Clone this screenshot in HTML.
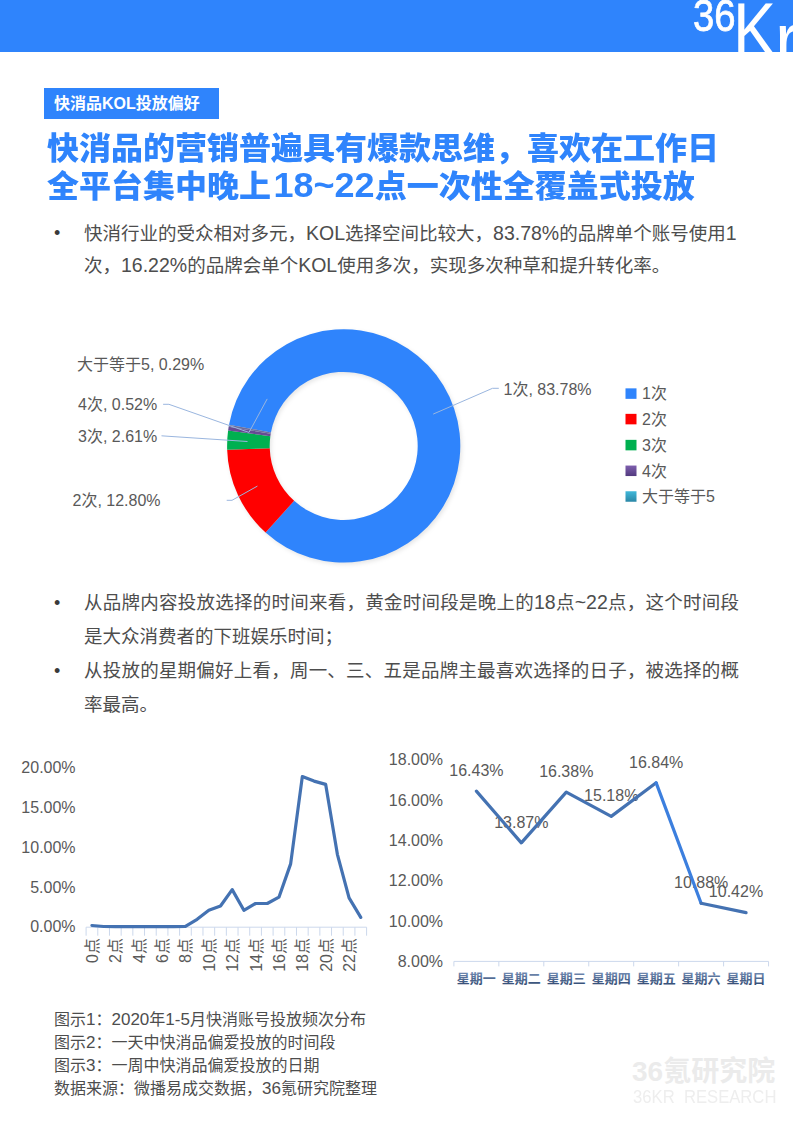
<!DOCTYPE html>
<html lang="zh-CN">
<head>
<meta charset="utf-8">
<title>快消品KOL投放偏好</title>
<style>
*{margin:0;padding:0;box-sizing:border-box}
html,body{width:793px;height:1122px;overflow:hidden;background:#fff}
body{position:relative;font-family:"Liberation Sans","Noto Sans CJK SC",sans-serif;color:#404040}
#bar{position:absolute;left:0;top:0;width:793px;height:52px;background:#2F84FC;overflow:hidden}
#tag{position:absolute;left:44px;top:88px;width:175px;height:30.5px;background:#2F84FC;color:#fff;font-weight:bold;font-size:16px;line-height:32px;padding-left:10px;white-space:nowrap}
.title{position:absolute;left:47px;font-size:32px;font-weight:900;color:#2F84FC;line-height:37px;white-space:nowrap;transform:scaleY(.955);transform-origin:0 50%}
.tl{font-size:36px;line-height:1;margin:0 0 0 2.5px;position:relative;top:0px}
.p{position:absolute;left:84px;font-size:18.5px;line-height:32px;color:#4D4D4D;white-space:nowrap}
.j{text-align:justify;text-align-last:justify}
.l{font-size:19.5px;line-height:1}
.dot{position:absolute;font-size:18px;line-height:32px;color:#3a3a3a}
.cap{position:absolute;left:54px;font-size:16px;line-height:23px;color:#4D4D4D;white-space:nowrap}
.c{font-size:17px;line-height:1}
#g{position:absolute;left:0;top:0}
#l36{position:absolute;left:692.5px;top:-6.5px;font-family:"Liberation Sans",sans-serif;font-weight:normal;-webkit-text-stroke:0.8px #fff;font-size:44px;line-height:1;color:#fff;transform:scaleX(.87);transform-origin:0 0}
#lr{position:absolute;left:775px;top:2px;font-family:"Liberation Sans",sans-serif;font-size:76px;line-height:1;color:#fff;transform:scaleX(.95);transform-origin:0 0}
#lK{position:absolute;left:733px;top:-8px;font-family:"Liberation Sans",sans-serif;font-size:76px;line-height:1;color:#fff;transform:scaleX(.85);transform-origin:0 0}
#wm1{position:absolute;left:632px;top:1054px;font-family:"Liberation Sans","Noto Sans CJK SC",sans-serif;font-weight:bold;font-size:28px;line-height:36px;color:#EBEBEB;white-space:nowrap}
#wm2{position:absolute;left:633px;top:1086px;font-family:"Liberation Sans",sans-serif;font-size:18px;line-height:22px;color:#EEEEEE;white-space:nowrap;transform:scaleX(.925);transform-origin:0 0}
svg text{font-family:"Liberation Sans","Noto Sans CJK SC",sans-serif}
</style>
</head>
<body>
<div id="bar"><div id="l36">36</div><div id="lK">K</div><div id="lr">r</div></div>
<div id="tag">快消品KOL投放偏好</div>
<div class="title" style="top:129.7px">快消品的营销普遍具有爆款思维，喜欢在工作日</div>
<div class="title" style="top:166.5px">全平台集中晚上<span class="tl">18~22</span>点一次性全覆盖式投放</div>

<div class="dot" style="left:54px;top:217px">•</div>
<div class="p j" style="top:218px;width:651px">快消行业的受众相对多元，<span class="l">KOL</span>选择空间比较大，<span class="l">83.78%</span>的品牌单个账号使用<span class="l">1</span></div>
<div class="p" style="top:250px">次，<span class="l">16.22%</span>的品牌会单个<span class="l">KOL</span>使用多次，实现多次种草和提升转化率。</div>

<div class="dot" style="left:54px;top:587px">•</div>
<div class="p j" style="top:587px;width:655px">从品牌内容投放选择的时间来看，黄金时间段是晚上的<span class="l">18</span>点<span class="l">~22</span>点，这个时间段</div>
<div class="p" style="top:621px">是大众消费者的下班娱乐时间；</div>
<div class="dot" style="left:54px;top:655px">•</div>
<div class="p j" style="top:655px;width:655px">从投放的星期偏好上看，周一、三、五是品牌主最喜欢选择的日子，被选择的概</div>
<div class="p" style="top:689px">率最高。</div>

<svg id="g" width="793" height="1122" viewBox="0 0 793 1122"><defs><linearGradient id="dg" x1="0" y1="0" x2="0" y2="1"><stop offset="0" stop-color="#7891B8"/><stop offset="1" stop-color="#2B456E"/></linearGradient><linearGradient id="gp" x1="0" y1="0" x2="0" y2="1"><stop offset="0" stop-color="#7E5FAE"/><stop offset="1" stop-color="#523A7E"/></linearGradient><linearGradient id="gt" x1="0" y1="0" x2="0" y2="1"><stop offset="0" stop-color="#40B8DA"/><stop offset="1" stop-color="#2A87A6"/></linearGradient><filter id="blur" x="-20%" y="-20%" width="140%" height="140%"><feGaussianBlur stdDeviation="2"/></filter></defs><circle cx="343.7" cy="445.9" r="95.3" fill="none" stroke="#000" stroke-opacity="0.10" stroke-width="42.599999999999994" filter="url(#blur)" transform="translate(1.5 2)"/>
<path d="M229.03 424.75 A116.6 116.6 0 1 1 265.59 532.47 L294.13 500.84 A74 74 0 1 0 270.93 432.48 Z" fill="#2F84FC"/>
<path d="M265.59 532.47 A116.6 116.6 0 0 1 227.16 449.69 L269.74 448.3 A74 74 0 0 0 294.13 500.84 Z" fill="#FF0000"/>
<path d="M227.16 449.69 A116.6 116.6 0 0 1 228.11 430.61 L270.34 436.2 A74 74 0 0 0 269.74 448.3 Z" fill="#00B050"/>
<path d="M228.11 430.61 A116.6 116.6 0 0 1 228.67 426.84 L270.69 433.81 A74 74 0 0 0 270.34 436.2 Z" fill="#674A94"/>
<path d="M228.67 426.84 A116.6 116.6 0 0 1 229.03 424.75 L270.93 432.48 A74 74 0 0 0 270.69 433.81 Z" fill="#6A6F9E"/>
<polyline points="498.8,388.3 492.5,388.3 433.2,414.1" fill="none" stroke="#9AB6DF" stroke-width="1"/>
<polyline points="226.7,500.3 232,500.3 257.4,486.1" fill="none" stroke="#9AB6DF" stroke-width="1"/>
<polyline points="163.1,404.3 168.9,404.3 249.2,432.5" fill="none" stroke="#9AB6DF" stroke-width="1"/>
<polyline points="161.5,435.8 167,436.2 247.5,441.5" fill="none" stroke="#9AB6DF" stroke-width="1"/>
<polyline points="267.2,398.9 249.2,432.1" fill="none" stroke="#9AB6DF" stroke-width="1"/>
<text x="503.5" y="394.5" font-size="16" fill="#595959" text-anchor="start">1次, 83.78%</text>
<text x="77" y="369.5" font-size="16" fill="#595959" text-anchor="start">大于等于5, 0.29%</text>
<text x="78" y="410" font-size="16" fill="#595959" text-anchor="start">4次, 0.52%</text>
<text x="78" y="441.5" font-size="16" fill="#595959" text-anchor="start">3次, 2.61%</text>
<text x="72.5" y="506" font-size="16" fill="#595959" text-anchor="start">2次, 12.80%</text>
<rect x="625.5" y="388.35" width="11" height="10.5" fill="#2F84FC"/>
<text x="642" y="399.4" font-size="16" fill="#595959" text-anchor="start">1次</text>
<rect x="625.5" y="413.85" width="11" height="10.5" fill="#FF0000"/>
<text x="642" y="424.9" font-size="16" fill="#595959" text-anchor="start">2次</text>
<rect x="625.5" y="439.85" width="11" height="10.5" fill="#00B050"/>
<text x="642" y="450.9" font-size="16" fill="#595959" text-anchor="start">3次</text>
<rect x="625.5" y="465.55" width="11" height="10.5" fill="url(#gp)"/>
<text x="642" y="476.6" font-size="16" fill="#595959" text-anchor="start">4次</text>
<rect x="625.5" y="491.25" width="11" height="10.5" fill="url(#gt)"/>
<text x="642" y="502.3" font-size="16" fill="#595959" text-anchor="start">大于等于5</text>
<line x1="86.1" y1="927.2" x2="366.6" y2="927.2" stroke="#CCD8EC" stroke-width="1"/>
<line x1="86.1" y1="927.2" x2="86.1" y2="935.7" stroke="#CCD8EC" stroke-width="1"/>
<line x1="97.79" y1="927.2" x2="97.79" y2="935.7" stroke="#CCD8EC" stroke-width="1"/>
<line x1="109.47" y1="927.2" x2="109.47" y2="935.7" stroke="#CCD8EC" stroke-width="1"/>
<line x1="121.16" y1="927.2" x2="121.16" y2="935.7" stroke="#CCD8EC" stroke-width="1"/>
<line x1="132.85" y1="927.2" x2="132.85" y2="935.7" stroke="#CCD8EC" stroke-width="1"/>
<line x1="144.54" y1="927.2" x2="144.54" y2="935.7" stroke="#CCD8EC" stroke-width="1"/>
<line x1="156.22" y1="927.2" x2="156.22" y2="935.7" stroke="#CCD8EC" stroke-width="1"/>
<line x1="167.91" y1="927.2" x2="167.91" y2="935.7" stroke="#CCD8EC" stroke-width="1"/>
<line x1="179.6" y1="927.2" x2="179.6" y2="935.7" stroke="#CCD8EC" stroke-width="1"/>
<line x1="191.29" y1="927.2" x2="191.29" y2="935.7" stroke="#CCD8EC" stroke-width="1"/>
<line x1="202.97" y1="927.2" x2="202.97" y2="935.7" stroke="#CCD8EC" stroke-width="1"/>
<line x1="214.66" y1="927.2" x2="214.66" y2="935.7" stroke="#CCD8EC" stroke-width="1"/>
<line x1="226.35" y1="927.2" x2="226.35" y2="935.7" stroke="#CCD8EC" stroke-width="1"/>
<line x1="238.04" y1="927.2" x2="238.04" y2="935.7" stroke="#CCD8EC" stroke-width="1"/>
<line x1="249.72" y1="927.2" x2="249.72" y2="935.7" stroke="#CCD8EC" stroke-width="1"/>
<line x1="261.41" y1="927.2" x2="261.41" y2="935.7" stroke="#CCD8EC" stroke-width="1"/>
<line x1="273.1" y1="927.2" x2="273.1" y2="935.7" stroke="#CCD8EC" stroke-width="1"/>
<line x1="284.79" y1="927.2" x2="284.79" y2="935.7" stroke="#CCD8EC" stroke-width="1"/>
<line x1="296.48" y1="927.2" x2="296.48" y2="935.7" stroke="#CCD8EC" stroke-width="1"/>
<line x1="308.16" y1="927.2" x2="308.16" y2="935.7" stroke="#CCD8EC" stroke-width="1"/>
<line x1="319.85" y1="927.2" x2="319.85" y2="935.7" stroke="#CCD8EC" stroke-width="1"/>
<line x1="331.54" y1="927.2" x2="331.54" y2="935.7" stroke="#CCD8EC" stroke-width="1"/>
<line x1="343.23" y1="927.2" x2="343.23" y2="935.7" stroke="#CCD8EC" stroke-width="1"/>
<line x1="354.91" y1="927.2" x2="354.91" y2="935.7" stroke="#CCD8EC" stroke-width="1"/>
<line x1="366.6" y1="927.2" x2="366.6" y2="935.7" stroke="#CCD8EC" stroke-width="1"/>
<text x="75.6" y="773" font-size="16" fill="#595959" text-anchor="end">20.00%</text>
<text x="75.6" y="812.85" font-size="16" fill="#595959" text-anchor="end">15.00%</text>
<text x="75.6" y="852.7" font-size="16" fill="#595959" text-anchor="end">10.00%</text>
<text x="75.6" y="892.55" font-size="16" fill="#595959" text-anchor="end">5.00%</text>
<text x="75.6" y="932.4" font-size="16" fill="#595959" text-anchor="end">0.00%</text>
<text x="0" y="0" font-size="16" fill="#595959" text-anchor="end" transform="translate(91.94 938) rotate(-90)" dy="6">0点</text>
<text x="0" y="0" font-size="16" fill="#595959" text-anchor="end" transform="translate(115.32 938) rotate(-90)" dy="6">2点</text>
<text x="0" y="0" font-size="16" fill="#595959" text-anchor="end" transform="translate(138.69 938) rotate(-90)" dy="6">4点</text>
<text x="0" y="0" font-size="16" fill="#595959" text-anchor="end" transform="translate(162.07 938) rotate(-90)" dy="6">6点</text>
<text x="0" y="0" font-size="16" fill="#595959" text-anchor="end" transform="translate(185.44 938) rotate(-90)" dy="6">8点</text>
<text x="0" y="0" font-size="16" fill="#595959" text-anchor="end" transform="translate(208.82 938) rotate(-90)" dy="6">10点</text>
<text x="0" y="0" font-size="16" fill="#595959" text-anchor="end" transform="translate(232.19 938) rotate(-90)" dy="6">12点</text>
<text x="0" y="0" font-size="16" fill="#595959" text-anchor="end" transform="translate(255.57 938) rotate(-90)" dy="6">14点</text>
<text x="0" y="0" font-size="16" fill="#595959" text-anchor="end" transform="translate(278.94 938) rotate(-90)" dy="6">16点</text>
<text x="0" y="0" font-size="16" fill="#595959" text-anchor="end" transform="translate(302.32 938) rotate(-90)" dy="6">18点</text>
<text x="0" y="0" font-size="16" fill="#595959" text-anchor="end" transform="translate(325.69 938) rotate(-90)" dy="6">20点</text>
<text x="0" y="0" font-size="16" fill="#595959" text-anchor="end" transform="translate(349.07 938) rotate(-90)" dy="6">22点</text>
<polyline points="91.94,925.5 103.63,926.5 115.32,926.7 127.01,926.7 138.69,926.7 150.38,926.7 162.07,926.7 173.76,926.6 185.44,926.3 197.13,919.3 208.82,910.3 220.51,906 232.19,889.6 243.88,910.3 255.57,903.5 267.26,903.5 278.94,897.2 290.63,863.9 302.32,776.6 314.01,781.1 325.69,784.4 337.38,854.3 349.07,897.9 360.76,917.3" fill="none" stroke="#4472B2" stroke-width="3.2" stroke-linejoin="round" stroke-linecap="round"/>
<line x1="453.9" y1="961.4" x2="768.55" y2="961.4" stroke="#CCD8EC" stroke-width="1"/>
<line x1="453.9" y1="961.4" x2="453.9" y2="966.4" stroke="#CCD8EC" stroke-width="1"/>
<line x1="498.85" y1="961.4" x2="498.85" y2="966.4" stroke="#CCD8EC" stroke-width="1"/>
<line x1="543.8" y1="961.4" x2="543.8" y2="966.4" stroke="#CCD8EC" stroke-width="1"/>
<line x1="588.75" y1="961.4" x2="588.75" y2="966.4" stroke="#CCD8EC" stroke-width="1"/>
<line x1="633.7" y1="961.4" x2="633.7" y2="966.4" stroke="#CCD8EC" stroke-width="1"/>
<line x1="678.65" y1="961.4" x2="678.65" y2="966.4" stroke="#CCD8EC" stroke-width="1"/>
<line x1="723.6" y1="961.4" x2="723.6" y2="966.4" stroke="#CCD8EC" stroke-width="1"/>
<line x1="768.55" y1="961.4" x2="768.55" y2="966.4" stroke="#CCD8EC" stroke-width="1"/>
<text x="443.1" y="765.1" font-size="16" fill="#595959" text-anchor="end">18.00%</text>
<text x="443.1" y="805.52" font-size="16" fill="#595959" text-anchor="end">16.00%</text>
<text x="443.1" y="845.94" font-size="16" fill="#595959" text-anchor="end">14.00%</text>
<text x="443.1" y="886.36" font-size="16" fill="#595959" text-anchor="end">12.00%</text>
<text x="443.1" y="926.78" font-size="16" fill="#595959" text-anchor="end">10.00%</text>
<text x="443.1" y="967.2" font-size="16" fill="#595959" text-anchor="end">8.00%</text>
<text x="476.38" y="983.2" font-size="13" fill="url(#dg)" text-anchor="middle" font-weight="bold">星期一</text>
<text x="521.33" y="983.2" font-size="13" fill="url(#dg)" text-anchor="middle" font-weight="bold">星期二</text>
<text x="566.27" y="983.2" font-size="13" fill="url(#dg)" text-anchor="middle" font-weight="bold">星期三</text>
<text x="611.23" y="983.2" font-size="13" fill="url(#dg)" text-anchor="middle" font-weight="bold">星期四</text>
<text x="656.17" y="983.2" font-size="13" fill="url(#dg)" text-anchor="middle" font-weight="bold">星期五</text>
<text x="701.12" y="983.2" font-size="13" fill="url(#dg)" text-anchor="middle" font-weight="bold">星期六</text>
<text x="746.08" y="983.2" font-size="13" fill="url(#dg)" text-anchor="middle" font-weight="bold">星期日</text>
<text x="476.38" y="775.83" font-size="16" fill="#595959" text-anchor="middle">16.43%</text>
<text x="521.33" y="827.57" font-size="16" fill="#595959" text-anchor="middle">13.87%</text>
<text x="566.27" y="776.84" font-size="16" fill="#595959" text-anchor="middle">16.38%</text>
<text x="611.23" y="801.09" font-size="16" fill="#595959" text-anchor="middle">15.18%</text>
<text x="656.17" y="767.54" font-size="16" fill="#595959" text-anchor="middle">16.84%</text>
<text x="701.12" y="888" font-size="16" fill="#595959" text-anchor="middle">10.88%</text>
<text x="736" y="897.29" font-size="16" fill="#595959" text-anchor="middle">10.42%</text>
<polyline points="476.38,791.13 521.33,842.87 566.27,792.14 611.23,816.39 656.17,782.84" fill="none" stroke="#4472B2" stroke-width="3.2" stroke-linejoin="round" stroke-linecap="round"/>
<line x1="656.17" y1="782.84" x2="701.12" y2="903.3" stroke="#3C7FDE" stroke-width="3.2" stroke-linecap="round"/>
<line x1="701.12" y1="903.3" x2="746.08" y2="912.59" stroke="#4472B2" stroke-width="3.2" stroke-linecap="round"/></svg>
<div id="wm1">36氪研究院</div>
<div id="wm2">36KR&nbsp; RESEARCH</div>

<div class="cap" style="top:1008px">图示<span class="c">1</span>：<span class="c">2020</span>年<span class="c">1-5</span>月快消账号投放频次分布</div>
<div class="cap" style="top:1031px">图示<span class="c">2</span>：一天中快消品偏爱投放的时间段</div>
<div class="cap" style="top:1054px">图示<span class="c">3</span>：一周中快消品偏爱投放的日期</div>
<div class="cap" style="top:1077px">数据来源：微播易成交数据，<span class="c">36</span>氪研究院整理</div>

</body>
</html>
